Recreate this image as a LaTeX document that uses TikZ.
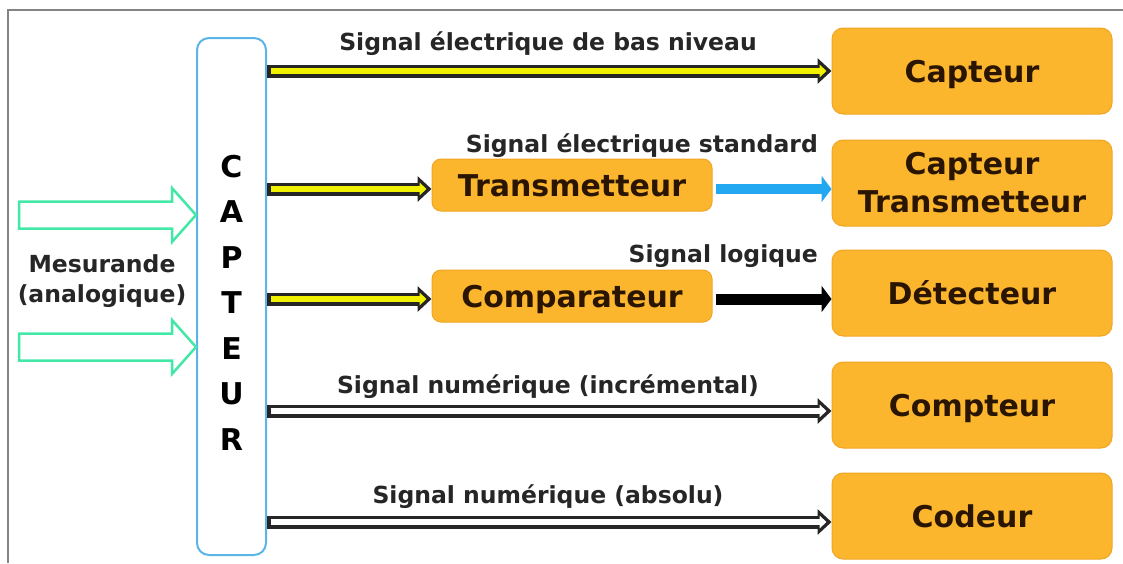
\documentclass[tikz,border=0pt]{standalone}
\usepackage{fontspec}
\setmainfont{DejaVu Sans}
\usetikzlibrary{arrows.meta,calc}
\definecolor{boxor}{HTML}{FBB62E}
\definecolor{boxedge}{HTML}{F2A524}
\definecolor{boxtxt}{HTML}{2A1500}
\definecolor{sigyel}{HTML}{F2F200}
\definecolor{sigblue}{HTML}{22A8F0}
\definecolor{capblue}{HTML}{5BB5E6}
\definecolor{mint}{HTML}{44E8A6}
\definecolor{lbl}{HTML}{262626}
\definecolor{framegray}{HTML}{858585}
\begin{document}
\begin{tikzpicture}[x=1pt,y=-1pt,
  outbox/.style={draw=boxedge, fill=boxor, line width=1pt, rounded corners=11pt,
    minimum width=280pt, minimum height=86pt, text=boxtxt,
    font=\bfseries\fontsize{30}{38}\selectfont, align=center, inner sep=0pt},
  oneline/.style={text height=22pt, text depth=0pt},
  midbox/.style={outbox, oneline, minimum height=52pt, rounded corners=9pt},
  lab/.style={text=lbl, font=\bfseries\fontsize{23.5}{28}\selectfont, inner sep=0pt},
  capl/.style={text=black, font=\bfseries\fontsize{30}{36}\selectfont, inner sep=0pt, anchor=base},
  dblout/.style={draw=black!85, line width=13pt, -{Triangle[length=14pt,width=25pt]}},
  dblin/.style={line width=6pt, shorten <=3.5pt, shorten >=5pt, -{Triangle[length=7pt,width=12.5pt]}},
  fatarr/.style={line width=11pt, shorten <=3pt, -{Triangle[length=10pt,width=26pt]}},
  garr/.style={draw=mint, line width=2.5pt, fill=white}
]
\useasboundingbox (0,0) rectangle (1123,563);
\fill[white] (0,0) rectangle (1123,563);
\draw[framegray, line width=1.5pt] (8,563) -- (8,10) -- (1123,10);

% central sensor box
\node[draw=capblue, line width=2pt, rounded corners=12pt, minimum width=69pt,
      minimum height=517pt, inner sep=0pt] (cap) at (231.5,296.5) {};
\foreach \l [count=\i] in {C,A,P,T,E,U,R}
  \node[capl] (l\i) at (231.5,{177+45.5*(\i-1)}) {\l};

% output boxes
\node[outbox, oneline] (c1)   at (972,71)  {Capteur};
\node[outbox]          (ct)   at (972,183) {Capteur\\Transmetteur};
\node[outbox, oneline] (det)  at (972,293) {Détecteur};
\node[outbox, oneline] (cpt)  at (972,405) {Compteur};
\node[outbox, oneline] (cod)  at (972,516) {Codeur};
\node[midbox] (trans) at (572,185) {Transmetteur};
\node[midbox] (comp)  at (572,296) {Comparateur};

% input arrows (mesurande)
\coordinate (g1) at (cap.west |- 0,215);
\coordinate (g2) at (cap.west |- 0,347);
\foreach \g in {g1,g2}
  \draw[garr] (\g) -- ++(-24,-27) -- ++(0,13.5) -- ++(-153,0) -- ++(0,27)
     -- ++(153,0) -- ++(0,13.5) -- cycle;
\node[lab, align=center, font=\bfseries\fontsize{23.5}{30}\selectfont] (mes) at (102,281)
  {Mesurande\\(analogique)};

% signal arrows
\coordinate (e1) at (c1.west);
\coordinate (e2) at ([yshift=-4pt]trans.west);
\coordinate (e3) at ([yshift=-3pt]comp.west);
\coordinate (e4) at ([yshift=-6pt]cpt.west);
\coordinate (e5) at ([yshift=-6pt]cod.west);
\foreach \e/\c in {e1/sigyel,e2/sigyel,e3/sigyel,e4/white,e5/white}{
  \draw[dblout] (cap.east |- \e) -- (\e);
  \draw[dblin, \c] (cap.east |- \e) -- (\e);
}
\coordinate (t2) at ([yshift=-4pt]trans.east);
\coordinate (t3) at ([yshift=-3pt]comp.east);
\draw[fatarr, sigblue, line width=10pt] (t2) -- (t2 -| ct.west);
\draw[fatarr, black] (t3) -- (t3 -| det.west);

% labels
\node[lab, anchor=base] (s1) at (548,50) {Signal électrique de bas niveau};
\node[lab, anchor=base east] (s2) at (818,152) {Signal électrique standard};
\node[lab, anchor=base east] (s3) at (818,262) {Signal logique};
\node[lab, anchor=base] (s4) at (548,393) {Signal numérique (incrémental)};
\node[lab, anchor=base] (s5) at (548,503) {Signal numérique (absolu)};
\end{tikzpicture}
\end{document}
